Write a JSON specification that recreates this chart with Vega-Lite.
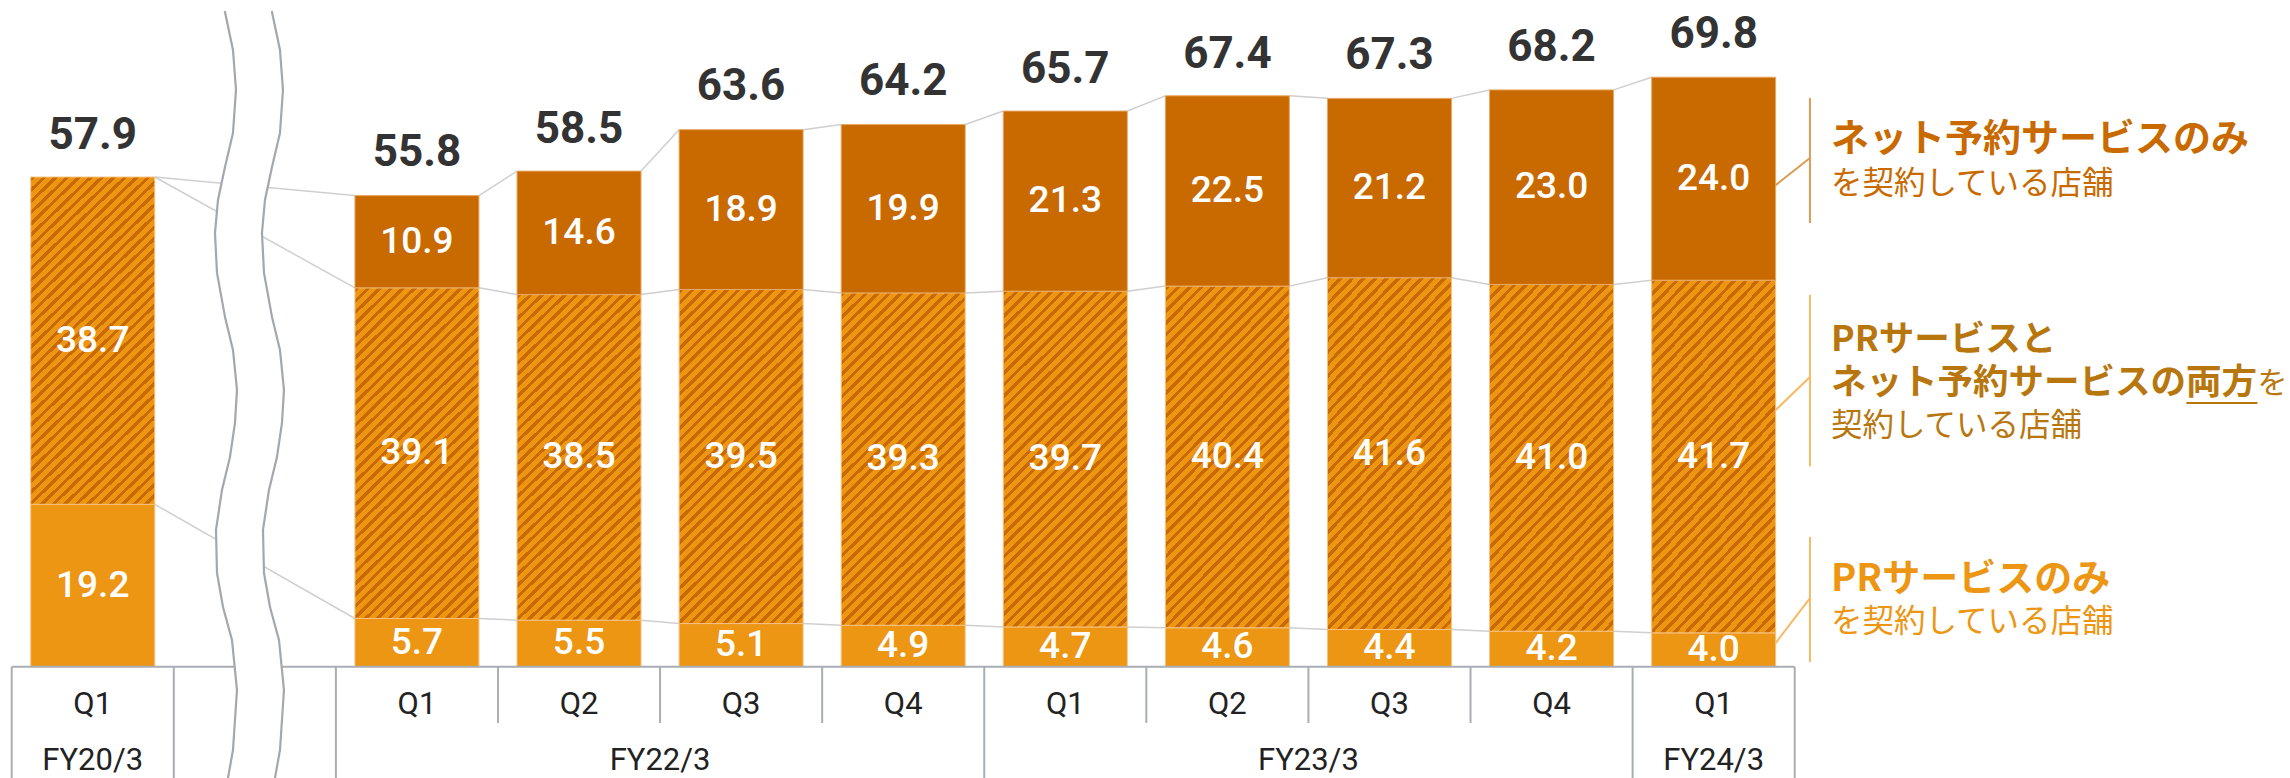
{
 "$schema": "https://vega.github.io/schema/vega-lite/v6.json",
 "width": 1783, "height": 778,
 "autosize": {"type": "none"},
 "padding": {"left": 11.7, "top": 0, "right": 495.3, "bottom": 0},
 "background": "white",
 "config": {"view": {"stroke": null}},
 "datasets": {
  "bars": [
   {"period": "FY20/3 Q1", "series": "pr", "ord": 1, "value": 19.2},
   {"period": "FY20/3 Q1", "series": "both", "ord": 2, "value": 38.7},
   {"period": "FY20/3 Q1", "series": "net", "ord": 3, "value": 0},
   {"period": "FY22/3 Q1", "series": "pr", "ord": 1, "value": 5.7},
   {"period": "FY22/3 Q1", "series": "both", "ord": 2, "value": 39.1},
   {"period": "FY22/3 Q1", "series": "net", "ord": 3, "value": 10.9},
   {"period": "FY22/3 Q2", "series": "pr", "ord": 1, "value": 5.5},
   {"period": "FY22/3 Q2", "series": "both", "ord": 2, "value": 38.5},
   {"period": "FY22/3 Q2", "series": "net", "ord": 3, "value": 14.6},
   {"period": "FY22/3 Q3", "series": "pr", "ord": 1, "value": 5.1},
   {"period": "FY22/3 Q3", "series": "both", "ord": 2, "value": 39.5},
   {"period": "FY22/3 Q3", "series": "net", "ord": 3, "value": 18.9},
   {"period": "FY22/3 Q4", "series": "pr", "ord": 1, "value": 4.9},
   {"period": "FY22/3 Q4", "series": "both", "ord": 2, "value": 39.3},
   {"period": "FY22/3 Q4", "series": "net", "ord": 3, "value": 19.9},
   {"period": "FY23/3 Q1", "series": "pr", "ord": 1, "value": 4.7},
   {"period": "FY23/3 Q1", "series": "both", "ord": 2, "value": 39.7},
   {"period": "FY23/3 Q1", "series": "net", "ord": 3, "value": 21.3},
   {"period": "FY23/3 Q2", "series": "pr", "ord": 1, "value": 4.6},
   {"period": "FY23/3 Q2", "series": "both", "ord": 2, "value": 40.4},
   {"period": "FY23/3 Q2", "series": "net", "ord": 3, "value": 22.5},
   {"period": "FY23/3 Q3", "series": "pr", "ord": 1, "value": 4.4},
   {"period": "FY23/3 Q3", "series": "both", "ord": 2, "value": 41.6},
   {"period": "FY23/3 Q3", "series": "net", "ord": 3, "value": 21.2},
   {"period": "FY23/3 Q4", "series": "pr", "ord": 1, "value": 4.2},
   {"period": "FY23/3 Q4", "series": "both", "ord": 2, "value": 41.0},
   {"period": "FY23/3 Q4", "series": "net", "ord": 3, "value": 23.0},
   {"period": "FY24/3 Q1", "series": "pr", "ord": 1, "value": 4.0},
   {"period": "FY24/3 Q1", "series": "both", "ord": 2, "value": 41.7},
   {"period": "FY24/3 Q1", "series": "net", "ord": 3, "value": 24.0}
  ],
  "totals": [
   {"period": "FY20/3 Q1", "q": "Q1", "total": 57.9},
   {"period": "FY22/3 Q1", "q": "Q1", "total": 55.8},
   {"period": "FY22/3 Q2", "q": "Q2", "total": 58.5},
   {"period": "FY22/3 Q3", "q": "Q3", "total": 63.6},
   {"period": "FY22/3 Q4", "q": "Q4", "total": 64.2},
   {"period": "FY23/3 Q1", "q": "Q1", "total": 65.7},
   {"period": "FY23/3 Q2", "q": "Q2", "total": 67.4},
   {"period": "FY23/3 Q3", "q": "Q3", "total": 67.3},
   {"period": "FY23/3 Q4", "q": "Q4", "total": 68.2},
   {"period": "FY24/3 Q1", "q": "Q1", "total": 69.8}
  ],
  "fy": [
   {"fy": "FY20/3", "period": "FY20/3 Q1", "span": 1},
   {"fy": "FY22/3", "period": "FY22/3 Q2", "span": 4},
   {"fy": "FY23/3", "period": "FY23/3 Q2", "span": 4},
   {"fy": "FY24/3", "period": "FY24/3 Q1", "span": 1}
  ],
  "grid": [
   {"period": "FY20/3 Q1", "len": "full"},
   {"period": "gap", "len": "full"},
   {"period": "FY22/3 Q1", "len": "full"},
   {"period": "FY22/3 Q2", "len": "short"},
   {"period": "FY22/3 Q3", "len": "short"},
   {"period": "FY22/3 Q4", "len": "short"},
   {"period": "FY23/3 Q1", "len": "full"},
   {"period": "FY23/3 Q2", "len": "short"},
   {"period": "FY23/3 Q3", "len": "short"},
   {"period": "FY23/3 Q4", "len": "short"},
   {"period": "FY24/3 Q1", "len": "full"}
  ],
  "gapcell": [{"period": "gap"}],
  "lastcell": [{"period": "FY24/3 Q1"}],
  "span": [{"period": "FY20/3 Q1", "end": "FY24/3 Q1"}]
 },
 "encoding": {
  "x": {"field": "period", "type": "nominal", "scale": {"domain": ["FY20/3 Q1", "gap", "FY22/3 Q1", "FY22/3 Q2", "FY22/3 Q3", "FY22/3 Q4", "FY23/3 Q1", "FY23/3 Q2", "FY23/3 Q3", "FY23/3 Q4", "FY24/3 Q1"], "paddingInner": 0.235, "paddingOuter": 0.1175}, "axis": null}
 },
 "layer": [
    {
     "data": {"name": "bars"},
     "transform": [
      {"stack": "value", "groupby": ["period"], "sort": [{"field": "ord", "order": "ascending"}], "as": ["v0", "v1"]},
      {"window": [{"op": "lead", "field": "v1", "as": "nv1"}, {"op": "lead", "field": "period", "as": "nperiod"}], "groupby": ["series"], "sort": [{"field": "period", "order": "ascending"}]},
      {"filter": "datum.nperiod != null"}
     ],
     "mark": {"type": "rule", "color": "#CFCFCF", "strokeWidth": 1.5},
     "encoding": {
      "x": {"field": "period", "type": "nominal", "bandPosition": 1, "scale": {"domain": ["FY20/3 Q1", "gap", "FY22/3 Q1", "FY22/3 Q2", "FY22/3 Q3", "FY22/3 Q4", "FY23/3 Q1", "FY23/3 Q2", "FY23/3 Q3", "FY23/3 Q4", "FY24/3 Q1"], "paddingInner": 0.235, "paddingOuter": 0.1175}, "axis": null},
      "x2": {"field": "nperiod", "bandPosition": 0},
      "y": {"field": "v1", "type": "quantitative", "scale": {"domain": [-13.16, 78.83], "nice": false, "zero": false}, "axis": null},
      "y2": {"field": "nv1"}
     }
    },
    {
     "data": {"name": "bars"},
     "transform": [
      {"stack": "value", "groupby": ["period"], "sort": [{"field": "ord", "order": "ascending"}], "as": ["v0", "v1"]},
      {"filter": "datum.series == 'pr'"}
     ],
     "mark": {"type": "bar", "fill": "#EC9613", "stroke": "#F6C283", "strokeWidth": 1},
     "encoding": {
      "y": {"field": "v0", "type": "quantitative", "axis": null},
      "y2": {"field": "v1"}
     }
    },
    {
     "data": {"name": "bars"},
     "transform": [
      {"stack": "value", "groupby": ["period"], "sort": [{"field": "ord", "order": "ascending"}], "as": ["v0", "v1"]},
      {"filter": "datum.series == 'both'"}
     ],
     "mark": {"type": "bar", "stroke": "#F6C283", "strokeWidth": 1,
      "fill": {"gradient": "linear", "x1": 0, "y1": 0, "x2": 0.4419, "y2": 1.2047, "stops": [
{"offset":0,"color":"#C96A00"},{"offset":0.01,"color":"#C96A00"},{"offset":0.01,"color":"#EC9613"},{"offset":0.025,"color":"#EC9613"},
{"offset":0.025,"color":"#C96A00"},{"offset":0.035,"color":"#C96A00"},{"offset":0.035,"color":"#EC9613"},{"offset":0.05,"color":"#EC9613"},
{"offset":0.05,"color":"#C96A00"},{"offset":0.06,"color":"#C96A00"},{"offset":0.06,"color":"#EC9613"},{"offset":0.075,"color":"#EC9613"},
{"offset":0.075,"color":"#C96A00"},{"offset":0.085,"color":"#C96A00"},{"offset":0.085,"color":"#EC9613"},{"offset":0.1,"color":"#EC9613"},
{"offset":0.1,"color":"#C96A00"},{"offset":0.11,"color":"#C96A00"},{"offset":0.11,"color":"#EC9613"},{"offset":0.125,"color":"#EC9613"},
{"offset":0.125,"color":"#C96A00"},{"offset":0.135,"color":"#C96A00"},{"offset":0.135,"color":"#EC9613"},{"offset":0.15,"color":"#EC9613"},
{"offset":0.15,"color":"#C96A00"},{"offset":0.16,"color":"#C96A00"},{"offset":0.16,"color":"#EC9613"},{"offset":0.175,"color":"#EC9613"},
{"offset":0.175,"color":"#C96A00"},{"offset":0.185,"color":"#C96A00"},{"offset":0.185,"color":"#EC9613"},{"offset":0.2,"color":"#EC9613"},
{"offset":0.2,"color":"#C96A00"},{"offset":0.21,"color":"#C96A00"},{"offset":0.21,"color":"#EC9613"},{"offset":0.225,"color":"#EC9613"},
{"offset":0.225,"color":"#C96A00"},{"offset":0.235,"color":"#C96A00"},{"offset":0.235,"color":"#EC9613"},{"offset":0.25,"color":"#EC9613"},
{"offset":0.25,"color":"#C96A00"},{"offset":0.26,"color":"#C96A00"},{"offset":0.26,"color":"#EC9613"},{"offset":0.275,"color":"#EC9613"},
{"offset":0.275,"color":"#C96A00"},{"offset":0.285,"color":"#C96A00"},{"offset":0.285,"color":"#EC9613"},{"offset":0.3,"color":"#EC9613"},
{"offset":0.3,"color":"#C96A00"},{"offset":0.31,"color":"#C96A00"},{"offset":0.31,"color":"#EC9613"},{"offset":0.325,"color":"#EC9613"},
{"offset":0.325,"color":"#C96A00"},{"offset":0.335,"color":"#C96A00"},{"offset":0.335,"color":"#EC9613"},{"offset":0.35,"color":"#EC9613"},
{"offset":0.35,"color":"#C96A00"},{"offset":0.36,"color":"#C96A00"},{"offset":0.36,"color":"#EC9613"},{"offset":0.375,"color":"#EC9613"},
{"offset":0.375,"color":"#C96A00"},{"offset":0.385,"color":"#C96A00"},{"offset":0.385,"color":"#EC9613"},{"offset":0.4,"color":"#EC9613"},
{"offset":0.4,"color":"#C96A00"},{"offset":0.41,"color":"#C96A00"},{"offset":0.41,"color":"#EC9613"},{"offset":0.425,"color":"#EC9613"},
{"offset":0.425,"color":"#C96A00"},{"offset":0.435,"color":"#C96A00"},{"offset":0.435,"color":"#EC9613"},{"offset":0.45,"color":"#EC9613"},
{"offset":0.45,"color":"#C96A00"},{"offset":0.46,"color":"#C96A00"},{"offset":0.46,"color":"#EC9613"},{"offset":0.475,"color":"#EC9613"},
{"offset":0.475,"color":"#C96A00"},{"offset":0.485,"color":"#C96A00"},{"offset":0.485,"color":"#EC9613"},{"offset":0.5,"color":"#EC9613"},
{"offset":0.5,"color":"#C96A00"},{"offset":0.51,"color":"#C96A00"},{"offset":0.51,"color":"#EC9613"},{"offset":0.525,"color":"#EC9613"},
{"offset":0.525,"color":"#C96A00"},{"offset":0.535,"color":"#C96A00"},{"offset":0.535,"color":"#EC9613"},{"offset":0.55,"color":"#EC9613"},
{"offset":0.55,"color":"#C96A00"},{"offset":0.56,"color":"#C96A00"},{"offset":0.56,"color":"#EC9613"},{"offset":0.575,"color":"#EC9613"},
{"offset":0.575,"color":"#C96A00"},{"offset":0.585,"color":"#C96A00"},{"offset":0.585,"color":"#EC9613"},{"offset":0.6,"color":"#EC9613"},
{"offset":0.6,"color":"#C96A00"},{"offset":0.61,"color":"#C96A00"},{"offset":0.61,"color":"#EC9613"},{"offset":0.625,"color":"#EC9613"},
{"offset":0.625,"color":"#C96A00"},{"offset":0.635,"color":"#C96A00"},{"offset":0.635,"color":"#EC9613"},{"offset":0.65,"color":"#EC9613"},
{"offset":0.65,"color":"#C96A00"},{"offset":0.66,"color":"#C96A00"},{"offset":0.66,"color":"#EC9613"},{"offset":0.675,"color":"#EC9613"},
{"offset":0.675,"color":"#C96A00"},{"offset":0.685,"color":"#C96A00"},{"offset":0.685,"color":"#EC9613"},{"offset":0.7,"color":"#EC9613"},
{"offset":0.7,"color":"#C96A00"},{"offset":0.71,"color":"#C96A00"},{"offset":0.71,"color":"#EC9613"},{"offset":0.725,"color":"#EC9613"},
{"offset":0.725,"color":"#C96A00"},{"offset":0.735,"color":"#C96A00"},{"offset":0.735,"color":"#EC9613"},{"offset":0.75,"color":"#EC9613"},
{"offset":0.75,"color":"#C96A00"},{"offset":0.76,"color":"#C96A00"},{"offset":0.76,"color":"#EC9613"},{"offset":0.775,"color":"#EC9613"},
{"offset":0.775,"color":"#C96A00"},{"offset":0.785,"color":"#C96A00"},{"offset":0.785,"color":"#EC9613"},{"offset":0.8,"color":"#EC9613"},
{"offset":0.8,"color":"#C96A00"},{"offset":0.81,"color":"#C96A00"},{"offset":0.81,"color":"#EC9613"},{"offset":0.825,"color":"#EC9613"},
{"offset":0.825,"color":"#C96A00"},{"offset":0.835,"color":"#C96A00"},{"offset":0.835,"color":"#EC9613"},{"offset":0.85,"color":"#EC9613"},
{"offset":0.85,"color":"#C96A00"},{"offset":0.86,"color":"#C96A00"},{"offset":0.86,"color":"#EC9613"},{"offset":0.875,"color":"#EC9613"},
{"offset":0.875,"color":"#C96A00"},{"offset":0.885,"color":"#C96A00"},{"offset":0.885,"color":"#EC9613"},{"offset":0.9,"color":"#EC9613"},
{"offset":0.9,"color":"#C96A00"},{"offset":0.91,"color":"#C96A00"},{"offset":0.91,"color":"#EC9613"},{"offset":0.925,"color":"#EC9613"},
{"offset":0.925,"color":"#C96A00"},{"offset":0.935,"color":"#C96A00"},{"offset":0.935,"color":"#EC9613"},{"offset":0.95,"color":"#EC9613"},
{"offset":0.95,"color":"#C96A00"},{"offset":0.96,"color":"#C96A00"},{"offset":0.96,"color":"#EC9613"},{"offset":0.975,"color":"#EC9613"},
{"offset":0.975,"color":"#C96A00"},{"offset":0.985,"color":"#C96A00"},{"offset":0.985,"color":"#EC9613"},{"offset":1,"color":"#EC9613"}
      ]}},
     "encoding": {
      "y": {"field": "v0", "type": "quantitative", "axis": null},
      "y2": {"field": "v1"}
     }
    },
    {
     "data": {"name": "bars"},
     "transform": [
      {"stack": "value", "groupby": ["period"], "sort": [{"field": "ord", "order": "ascending"}], "as": ["v0", "v1"]},
      {"filter": "datum.series == 'net' && datum.value > 0"}
     ],
     "mark": {"type": "bar", "fill": "#C96A00", "stroke": "#E9A863", "strokeWidth": 1},
     "encoding": {
      "y": {"field": "v0", "type": "quantitative", "axis": null},
      "y2": {"field": "v1"}
     }
    },
    {
     "data": {"name": "bars"},
     "transform": [{"filter": "datum.value > 0"}],
     "mark": {"type": "text", "color": "white", "font": "Roboto", "fontSize": 37, "fontWeight": 500, "baseline": "middle", "align": "center"},
     "encoding": {
      "y": {"field": "value", "type": "quantitative", "stack": "zero", "bandPosition": 0.5, "axis": null},
      "detail": {"field": "series", "type": "nominal"},
      "order": {"field": "ord", "type": "quantitative"},
      "text": {"field": "value", "type": "quantitative", "format": ".1f"}
     }
    },
    {
     "data": {"name": "totals"},
     "mark": {"type": "text", "color": "#333333", "font": "Roboto", "fontSize": 44, "fontWeight": "bold", "baseline": "alphabetic", "align": "center", "dy": -28.5},
     "encoding": {
      "y": {"field": "total", "type": "quantitative", "axis": null},
      "text": {"field": "total", "type": "quantitative", "format": ".1f"}
     }
    },
    {
     "data": {"name": "totals"},
     "mark": {"type": "text", "color": "#222222", "font": "Roboto", "fontSize": 31, "baseline": "middle", "align": "center"},
     "encoding": {
      "y": {"datum": -4.49, "type": "quantitative"},
      "text": {"field": "q", "type": "nominal"}
     }
    },
    {
     "data": {"name": "fy"},
     "transform": [{"filter": "datum.span == 1"}],
     "mark": {"type": "text", "color": "#222222", "font": "Roboto", "fontSize": 31, "baseline": "middle", "align": "center"},
     "encoding": {
      "y": {"datum": -11.15, "type": "quantitative"},
      "text": {"field": "fy", "type": "nominal"}
     }
    },
    {
     "data": {"name": "fy"},
     "transform": [{"filter": "datum.span == 4"}],
     "mark": {"type": "text", "color": "#222222", "font": "Roboto", "fontSize": 31, "baseline": "middle", "align": "center"},
     "encoding": {
      "x": {"field": "period", "type": "nominal", "bandPosition": 1.1536, "axis": null},
      "y": {"datum": -11.15, "type": "quantitative"},
      "text": {"field": "fy", "type": "nominal"}
     }
    },
    {
     "data": {"name": "grid"},
     "transform": [{"filter": "datum.len == 'full'"}],
     "mark": {"type": "rule", "color": "#A9AEB4", "strokeWidth": 2},
     "encoding": {
      "x": {"field": "period", "type": "nominal", "bandPosition": -0.1536, "axis": null},
      "y": {"datum": 0, "type": "quantitative"},
      "y2": {"datum": -13.2}
     }
    },
    {
     "data": {"name": "grid"},
     "transform": [{"filter": "datum.len == 'short'"}],
     "mark": {"type": "rule", "color": "#A9AEB4", "strokeWidth": 2},
     "encoding": {
      "x": {"field": "period", "type": "nominal", "bandPosition": -0.1536, "axis": null},
      "y": {"datum": 0, "type": "quantitative"},
      "y2": {"datum": -6.66}
     }
    },
    {
     "data": {"name": "grid"},
     "transform": [{"filter": "datum.period == 'FY24/3 Q1'"}],
     "mark": {"type": "rule", "color": "#A9AEB4", "strokeWidth": 2},
     "encoding": {
      "x": {"field": "period", "type": "nominal", "bandPosition": 1.1536, "axis": null},
      "y": {"datum": 0, "type": "quantitative"},
      "y2": {"datum": -13.2}
     }
    },
    {
     "data": {"name": "span"},
     "mark": {"type": "rule", "color": "#A9AEB4", "strokeWidth": 2},
     "encoding": {
      "x": {"field": "period", "type": "nominal", "bandPosition": -0.1536, "axis": null},
      "x2": {"field": "end", "bandPosition": 1.1536},
      "y": {"datum": 0, "type": "quantitative"}
     }
    },

    {"data": {"name": "gapcell"}, "mark": {"type": "rule", "color": "white", "strokeWidth": 46, "strokeCap": "round"}, "encoding": {"x": {"field": "period", "type": "nominal", "bandPosition": 0.4488, "axis": null}, "x2": {"field": "period", "bandPosition": 0.5133}, "y": {"datum": 77.42, "type": "quantitative"}, "y2": {"datum": 72.92}}},
    {"data": {"name": "gapcell"}, "mark": {"type": "rule", "color": "white", "strokeWidth": 46, "strokeCap": "round"}, "encoding": {"x": {"field": "period", "type": "nominal", "bandPosition": 0.5133, "axis": null}, "x2": {"field": "period", "bandPosition": 0.5375}, "y": {"datum": 72.92, "type": "quantitative"}, "y2": {"datum": 68.19}}},
    {"data": {"name": "gapcell"}, "mark": {"type": "rule", "color": "white", "strokeWidth": 46, "strokeCap": "round"}, "encoding": {"x": {"field": "period", "type": "nominal", "bandPosition": 0.5375, "axis": null}, "x2": {"field": "period", "bandPosition": 0.5133}, "y": {"datum": 68.19, "type": "quantitative"}, "y2": {"datum": 63.11}}},
    {"data": {"name": "gapcell"}, "mark": {"type": "rule", "color": "white", "strokeWidth": 46, "strokeCap": "round"}, "encoding": {"x": {"field": "period", "type": "nominal", "bandPosition": 0.5133, "axis": null}, "x2": {"field": "period", "bandPosition": 0.4488}, "y": {"datum": 63.11, "type": "quantitative"}, "y2": {"datum": 59.09}}},
    {"data": {"name": "gapcell"}, "mark": {"type": "rule", "color": "white", "strokeWidth": 46, "strokeCap": "round"}, "encoding": {"x": {"field": "period", "type": "nominal", "bandPosition": 0.4488, "axis": null}, "x2": {"field": "period", "bandPosition": 0.3923}, "y": {"datum": 59.09, "type": "quantitative"}, "y2": {"datum": 55.19}}},
    {"data": {"name": "gapcell"}, "mark": {"type": "rule", "color": "white", "strokeWidth": 46, "strokeCap": "round"}, "encoding": {"x": {"field": "period", "type": "nominal", "bandPosition": 0.3923, "axis": null}, "x2": {"field": "period", "bandPosition": 0.3681}, "y": {"datum": 55.19, "type": "quantitative"}, "y2": {"datum": 51.29}}},
    {"data": {"name": "gapcell"}, "mark": {"type": "rule", "color": "white", "strokeWidth": 46, "strokeCap": "round"}, "encoding": {"x": {"field": "period", "type": "nominal", "bandPosition": 0.3681, "axis": null}, "x2": {"field": "period", "bandPosition": 0.3843}, "y": {"datum": 51.29, "type": "quantitative"}, "y2": {"datum": 46.56}}},
    {"data": {"name": "gapcell"}, "mark": {"type": "rule", "color": "white", "strokeWidth": 46, "strokeCap": "round"}, "encoding": {"x": {"field": "period", "type": "nominal", "bandPosition": 0.3843, "axis": null}, "x2": {"field": "period", "bandPosition": 0.4488}, "y": {"datum": 46.56, "type": "quantitative"}, "y2": {"datum": 41.36}}},
    {"data": {"name": "gapcell"}, "mark": {"type": "rule", "color": "white", "strokeWidth": 46, "strokeCap": "round"}, "encoding": {"x": {"field": "period", "type": "nominal", "bandPosition": 0.4488, "axis": null}, "x2": {"field": "period", "bandPosition": 0.5133}, "y": {"datum": 41.36, "type": "quantitative"}, "y2": {"datum": 37.45}}},
    {"data": {"name": "gapcell"}, "mark": {"type": "rule", "color": "white", "strokeWidth": 46, "strokeCap": "round"}, "encoding": {"x": {"field": "period", "type": "nominal", "bandPosition": 0.5133, "axis": null}, "x2": {"field": "period", "bandPosition": 0.5455}, "y": {"datum": 37.45, "type": "quantitative"}, "y2": {"datum": 32.72}}},
    {"data": {"name": "gapcell"}, "mark": {"type": "rule", "color": "white", "strokeWidth": 46, "strokeCap": "round"}, "encoding": {"x": {"field": "period", "type": "nominal", "bandPosition": 0.5455, "axis": null}, "x2": {"field": "period", "bandPosition": 0.5294}, "y": {"datum": 32.72, "type": "quantitative"}, "y2": {"datum": 28.82}}},
    {"data": {"name": "gapcell"}, "mark": {"type": "rule", "color": "white", "strokeWidth": 46, "strokeCap": "round"}, "encoding": {"x": {"field": "period", "type": "nominal", "bandPosition": 0.5294, "axis": null}, "x2": {"field": "period", "bandPosition": 0.4891}, "y": {"datum": 28.82, "type": "quantitative"}, "y2": {"datum": 24.80}}},
    {"data": {"name": "gapcell"}, "mark": {"type": "rule", "color": "white", "strokeWidth": 46, "strokeCap": "round"}, "encoding": {"x": {"field": "period", "type": "nominal", "bandPosition": 0.4891, "axis": null}, "x2": {"field": "period", "bandPosition": 0.4246}, "y": {"datum": 24.80, "type": "quantitative"}, "y2": {"datum": 20.90}}},
    {"data": {"name": "gapcell"}, "mark": {"type": "rule", "color": "white", "strokeWidth": 46, "strokeCap": "round"}, "encoding": {"x": {"field": "period", "type": "nominal", "bandPosition": 0.4246, "axis": null}, "x2": {"field": "period", "bandPosition": 0.3762}, "y": {"datum": 20.90, "type": "quantitative"}, "y2": {"datum": 16.17}}},
    {"data": {"name": "gapcell"}, "mark": {"type": "rule", "color": "white", "strokeWidth": 46, "strokeCap": "round"}, "encoding": {"x": {"field": "period", "type": "nominal", "bandPosition": 0.3762, "axis": null}, "x2": {"field": "period", "bandPosition": 0.3843}, "y": {"datum": 16.17, "type": "quantitative"}, "y2": {"datum": 11.08}}},
    {"data": {"name": "gapcell"}, "mark": {"type": "rule", "color": "white", "strokeWidth": 46, "strokeCap": "round"}, "encoding": {"x": {"field": "period", "type": "nominal", "bandPosition": 0.3843, "axis": null}, "x2": {"field": "period", "bandPosition": 0.4327}, "y": {"datum": 11.08, "type": "quantitative"}, "y2": {"datum": 7.06}}},
    {"data": {"name": "gapcell"}, "mark": {"type": "rule", "color": "white", "strokeWidth": 46, "strokeCap": "round"}, "encoding": {"x": {"field": "period", "type": "nominal", "bandPosition": 0.4327, "axis": null}, "x2": {"field": "period", "bandPosition": 0.5052}, "y": {"datum": 7.06, "type": "quantitative"}, "y2": {"datum": 3.16}}},
    {"data": {"name": "gapcell"}, "mark": {"type": "rule", "color": "white", "strokeWidth": 46, "strokeCap": "round"}, "encoding": {"x": {"field": "period", "type": "nominal", "bandPosition": 0.5052, "axis": null}, "x2": {"field": "period", "bandPosition": 0.5455}, "y": {"datum": 3.16, "type": "quantitative"}, "y2": {"datum": -2.76}}},
    {"data": {"name": "gapcell"}, "mark": {"type": "rule", "color": "white", "strokeWidth": 46, "strokeCap": "round"}, "encoding": {"x": {"field": "period", "type": "nominal", "bandPosition": 0.5455, "axis": null}, "x2": {"field": "period", "bandPosition": 0.5133}, "y": {"datum": -2.76, "type": "quantitative"}, "y2": {"datum": -9.85}}},
    {"data": {"name": "gapcell"}, "mark": {"type": "rule", "color": "white", "strokeWidth": 46, "strokeCap": "round"}, "encoding": {"x": {"field": "period", "type": "nominal", "bandPosition": 0.5133, "axis": null}, "x2": {"field": "period", "bandPosition": 0.4730}, "y": {"datum": -9.85, "type": "quantitative"}, "y2": {"datum": -13.16}}},

    {"data": {"name": "gapcell"}, "mark": {"type": "rule", "color": "#A3A8AE", "strokeWidth": 2.2, "strokeCap": "round"}, "encoding": {"x": {"field": "period", "type": "nominal", "bandPosition": 0.2593, "axis": null}, "x2": {"field": "period", "bandPosition": 0.3238}, "y": {"datum": 77.42, "type": "quantitative"}, "y2": {"datum": 72.92}}},
    {"data": {"name": "gapcell"}, "mark": {"type": "rule", "color": "#A3A8AE", "strokeWidth": 2.2, "strokeCap": "round"}, "encoding": {"x": {"field": "period", "type": "nominal", "bandPosition": 0.3238, "axis": null}, "x2": {"field": "period", "bandPosition": 0.3480}, "y": {"datum": 72.92, "type": "quantitative"}, "y2": {"datum": 68.19}}},
    {"data": {"name": "gapcell"}, "mark": {"type": "rule", "color": "#A3A8AE", "strokeWidth": 2.2, "strokeCap": "round"}, "encoding": {"x": {"field": "period", "type": "nominal", "bandPosition": 0.3480, "axis": null}, "x2": {"field": "period", "bandPosition": 0.3238}, "y": {"datum": 68.19, "type": "quantitative"}, "y2": {"datum": 63.11}}},
    {"data": {"name": "gapcell"}, "mark": {"type": "rule", "color": "#A3A8AE", "strokeWidth": 2.2, "strokeCap": "round"}, "encoding": {"x": {"field": "period", "type": "nominal", "bandPosition": 0.3238, "axis": null}, "x2": {"field": "period", "bandPosition": 0.2593}, "y": {"datum": 63.11, "type": "quantitative"}, "y2": {"datum": 59.09}}},
    {"data": {"name": "gapcell"}, "mark": {"type": "rule", "color": "#A3A8AE", "strokeWidth": 2.2, "strokeCap": "round"}, "encoding": {"x": {"field": "period", "type": "nominal", "bandPosition": 0.2593, "axis": null}, "x2": {"field": "period", "bandPosition": 0.2028}, "y": {"datum": 59.09, "type": "quantitative"}, "y2": {"datum": 55.19}}},
    {"data": {"name": "gapcell"}, "mark": {"type": "rule", "color": "#A3A8AE", "strokeWidth": 2.2, "strokeCap": "round"}, "encoding": {"x": {"field": "period", "type": "nominal", "bandPosition": 0.2028, "axis": null}, "x2": {"field": "period", "bandPosition": 0.1786}, "y": {"datum": 55.19, "type": "quantitative"}, "y2": {"datum": 51.29}}},
    {"data": {"name": "gapcell"}, "mark": {"type": "rule", "color": "#A3A8AE", "strokeWidth": 2.2, "strokeCap": "round"}, "encoding": {"x": {"field": "period", "type": "nominal", "bandPosition": 0.1786, "axis": null}, "x2": {"field": "period", "bandPosition": 0.1948}, "y": {"datum": 51.29, "type": "quantitative"}, "y2": {"datum": 46.56}}},
    {"data": {"name": "gapcell"}, "mark": {"type": "rule", "color": "#A3A8AE", "strokeWidth": 2.2, "strokeCap": "round"}, "encoding": {"x": {"field": "period", "type": "nominal", "bandPosition": 0.1948, "axis": null}, "x2": {"field": "period", "bandPosition": 0.2593}, "y": {"datum": 46.56, "type": "quantitative"}, "y2": {"datum": 41.36}}},
    {"data": {"name": "gapcell"}, "mark": {"type": "rule", "color": "#A3A8AE", "strokeWidth": 2.2, "strokeCap": "round"}, "encoding": {"x": {"field": "period", "type": "nominal", "bandPosition": 0.2593, "axis": null}, "x2": {"field": "period", "bandPosition": 0.3238}, "y": {"datum": 41.36, "type": "quantitative"}, "y2": {"datum": 37.45}}},
    {"data": {"name": "gapcell"}, "mark": {"type": "rule", "color": "#A3A8AE", "strokeWidth": 2.2, "strokeCap": "round"}, "encoding": {"x": {"field": "period", "type": "nominal", "bandPosition": 0.3238, "axis": null}, "x2": {"field": "period", "bandPosition": 0.3560}, "y": {"datum": 37.45, "type": "quantitative"}, "y2": {"datum": 32.72}}},
    {"data": {"name": "gapcell"}, "mark": {"type": "rule", "color": "#A3A8AE", "strokeWidth": 2.2, "strokeCap": "round"}, "encoding": {"x": {"field": "period", "type": "nominal", "bandPosition": 0.3560, "axis": null}, "x2": {"field": "period", "bandPosition": 0.3399}, "y": {"datum": 32.72, "type": "quantitative"}, "y2": {"datum": 28.82}}},
    {"data": {"name": "gapcell"}, "mark": {"type": "rule", "color": "#A3A8AE", "strokeWidth": 2.2, "strokeCap": "round"}, "encoding": {"x": {"field": "period", "type": "nominal", "bandPosition": 0.3399, "axis": null}, "x2": {"field": "period", "bandPosition": 0.2996}, "y": {"datum": 28.82, "type": "quantitative"}, "y2": {"datum": 24.80}}},
    {"data": {"name": "gapcell"}, "mark": {"type": "rule", "color": "#A3A8AE", "strokeWidth": 2.2, "strokeCap": "round"}, "encoding": {"x": {"field": "period", "type": "nominal", "bandPosition": 0.2996, "axis": null}, "x2": {"field": "period", "bandPosition": 0.2351}, "y": {"datum": 24.80, "type": "quantitative"}, "y2": {"datum": 20.90}}},
    {"data": {"name": "gapcell"}, "mark": {"type": "rule", "color": "#A3A8AE", "strokeWidth": 2.2, "strokeCap": "round"}, "encoding": {"x": {"field": "period", "type": "nominal", "bandPosition": 0.2351, "axis": null}, "x2": {"field": "period", "bandPosition": 0.1867}, "y": {"datum": 20.90, "type": "quantitative"}, "y2": {"datum": 16.17}}},
    {"data": {"name": "gapcell"}, "mark": {"type": "rule", "color": "#A3A8AE", "strokeWidth": 2.2, "strokeCap": "round"}, "encoding": {"x": {"field": "period", "type": "nominal", "bandPosition": 0.1867, "axis": null}, "x2": {"field": "period", "bandPosition": 0.1948}, "y": {"datum": 16.17, "type": "quantitative"}, "y2": {"datum": 11.08}}},
    {"data": {"name": "gapcell"}, "mark": {"type": "rule", "color": "#A3A8AE", "strokeWidth": 2.2, "strokeCap": "round"}, "encoding": {"x": {"field": "period", "type": "nominal", "bandPosition": 0.1948, "axis": null}, "x2": {"field": "period", "bandPosition": 0.2432}, "y": {"datum": 11.08, "type": "quantitative"}, "y2": {"datum": 7.06}}},
    {"data": {"name": "gapcell"}, "mark": {"type": "rule", "color": "#A3A8AE", "strokeWidth": 2.2, "strokeCap": "round"}, "encoding": {"x": {"field": "period", "type": "nominal", "bandPosition": 0.2432, "axis": null}, "x2": {"field": "period", "bandPosition": 0.3157}, "y": {"datum": 7.06, "type": "quantitative"}, "y2": {"datum": 3.16}}},
    {"data": {"name": "gapcell"}, "mark": {"type": "rule", "color": "#A3A8AE", "strokeWidth": 2.2, "strokeCap": "round"}, "encoding": {"x": {"field": "period", "type": "nominal", "bandPosition": 0.3157, "axis": null}, "x2": {"field": "period", "bandPosition": 0.3560}, "y": {"datum": 3.16, "type": "quantitative"}, "y2": {"datum": -2.76}}},
    {"data": {"name": "gapcell"}, "mark": {"type": "rule", "color": "#A3A8AE", "strokeWidth": 2.2, "strokeCap": "round"}, "encoding": {"x": {"field": "period", "type": "nominal", "bandPosition": 0.3560, "axis": null}, "x2": {"field": "period", "bandPosition": 0.3238}, "y": {"datum": -2.76, "type": "quantitative"}, "y2": {"datum": -9.85}}},
    {"data": {"name": "gapcell"}, "mark": {"type": "rule", "color": "#A3A8AE", "strokeWidth": 2.2, "strokeCap": "round"}, "encoding": {"x": {"field": "period", "type": "nominal", "bandPosition": 0.3238, "axis": null}, "x2": {"field": "period", "bandPosition": 0.2835}, "y": {"datum": -9.85, "type": "quantitative"}, "y2": {"datum": -13.16}}},

    {"data": {"name": "gapcell"}, "mark": {"type": "rule", "color": "#A3A8AE", "strokeWidth": 2.2, "strokeCap": "round"}, "encoding": {"x": {"field": "period", "type": "nominal", "bandPosition": 0.6383, "axis": null}, "x2": {"field": "period", "bandPosition": 0.7028}, "y": {"datum": 77.42, "type": "quantitative"}, "y2": {"datum": 72.92}}},
    {"data": {"name": "gapcell"}, "mark": {"type": "rule", "color": "#A3A8AE", "strokeWidth": 2.2, "strokeCap": "round"}, "encoding": {"x": {"field": "period", "type": "nominal", "bandPosition": 0.7028, "axis": null}, "x2": {"field": "period", "bandPosition": 0.7270}, "y": {"datum": 72.92, "type": "quantitative"}, "y2": {"datum": 68.19}}},
    {"data": {"name": "gapcell"}, "mark": {"type": "rule", "color": "#A3A8AE", "strokeWidth": 2.2, "strokeCap": "round"}, "encoding": {"x": {"field": "period", "type": "nominal", "bandPosition": 0.7270, "axis": null}, "x2": {"field": "period", "bandPosition": 0.7028}, "y": {"datum": 68.19, "type": "quantitative"}, "y2": {"datum": 63.11}}},
    {"data": {"name": "gapcell"}, "mark": {"type": "rule", "color": "#A3A8AE", "strokeWidth": 2.2, "strokeCap": "round"}, "encoding": {"x": {"field": "period", "type": "nominal", "bandPosition": 0.7028, "axis": null}, "x2": {"field": "period", "bandPosition": 0.6383}, "y": {"datum": 63.11, "type": "quantitative"}, "y2": {"datum": 59.09}}},
    {"data": {"name": "gapcell"}, "mark": {"type": "rule", "color": "#A3A8AE", "strokeWidth": 2.2, "strokeCap": "round"}, "encoding": {"x": {"field": "period", "type": "nominal", "bandPosition": 0.6383, "axis": null}, "x2": {"field": "period", "bandPosition": 0.5818}, "y": {"datum": 59.09, "type": "quantitative"}, "y2": {"datum": 55.19}}},
    {"data": {"name": "gapcell"}, "mark": {"type": "rule", "color": "#A3A8AE", "strokeWidth": 2.2, "strokeCap": "round"}, "encoding": {"x": {"field": "period", "type": "nominal", "bandPosition": 0.5818, "axis": null}, "x2": {"field": "period", "bandPosition": 0.5576}, "y": {"datum": 55.19, "type": "quantitative"}, "y2": {"datum": 51.29}}},
    {"data": {"name": "gapcell"}, "mark": {"type": "rule", "color": "#A3A8AE", "strokeWidth": 2.2, "strokeCap": "round"}, "encoding": {"x": {"field": "period", "type": "nominal", "bandPosition": 0.5576, "axis": null}, "x2": {"field": "period", "bandPosition": 0.5738}, "y": {"datum": 51.29, "type": "quantitative"}, "y2": {"datum": 46.56}}},
    {"data": {"name": "gapcell"}, "mark": {"type": "rule", "color": "#A3A8AE", "strokeWidth": 2.2, "strokeCap": "round"}, "encoding": {"x": {"field": "period", "type": "nominal", "bandPosition": 0.5738, "axis": null}, "x2": {"field": "period", "bandPosition": 0.6383}, "y": {"datum": 46.56, "type": "quantitative"}, "y2": {"datum": 41.36}}},
    {"data": {"name": "gapcell"}, "mark": {"type": "rule", "color": "#A3A8AE", "strokeWidth": 2.2, "strokeCap": "round"}, "encoding": {"x": {"field": "period", "type": "nominal", "bandPosition": 0.6383, "axis": null}, "x2": {"field": "period", "bandPosition": 0.7028}, "y": {"datum": 41.36, "type": "quantitative"}, "y2": {"datum": 37.45}}},
    {"data": {"name": "gapcell"}, "mark": {"type": "rule", "color": "#A3A8AE", "strokeWidth": 2.2, "strokeCap": "round"}, "encoding": {"x": {"field": "period", "type": "nominal", "bandPosition": 0.7028, "axis": null}, "x2": {"field": "period", "bandPosition": 0.7350}, "y": {"datum": 37.45, "type": "quantitative"}, "y2": {"datum": 32.72}}},
    {"data": {"name": "gapcell"}, "mark": {"type": "rule", "color": "#A3A8AE", "strokeWidth": 2.2, "strokeCap": "round"}, "encoding": {"x": {"field": "period", "type": "nominal", "bandPosition": 0.7350, "axis": null}, "x2": {"field": "period", "bandPosition": 0.7189}, "y": {"datum": 32.72, "type": "quantitative"}, "y2": {"datum": 28.82}}},
    {"data": {"name": "gapcell"}, "mark": {"type": "rule", "color": "#A3A8AE", "strokeWidth": 2.2, "strokeCap": "round"}, "encoding": {"x": {"field": "period", "type": "nominal", "bandPosition": 0.7189, "axis": null}, "x2": {"field": "period", "bandPosition": 0.6786}, "y": {"datum": 28.82, "type": "quantitative"}, "y2": {"datum": 24.80}}},
    {"data": {"name": "gapcell"}, "mark": {"type": "rule", "color": "#A3A8AE", "strokeWidth": 2.2, "strokeCap": "round"}, "encoding": {"x": {"field": "period", "type": "nominal", "bandPosition": 0.6786, "axis": null}, "x2": {"field": "period", "bandPosition": 0.6141}, "y": {"datum": 24.80, "type": "quantitative"}, "y2": {"datum": 20.90}}},
    {"data": {"name": "gapcell"}, "mark": {"type": "rule", "color": "#A3A8AE", "strokeWidth": 2.2, "strokeCap": "round"}, "encoding": {"x": {"field": "period", "type": "nominal", "bandPosition": 0.6141, "axis": null}, "x2": {"field": "period", "bandPosition": 0.5657}, "y": {"datum": 20.90, "type": "quantitative"}, "y2": {"datum": 16.17}}},
    {"data": {"name": "gapcell"}, "mark": {"type": "rule", "color": "#A3A8AE", "strokeWidth": 2.2, "strokeCap": "round"}, "encoding": {"x": {"field": "period", "type": "nominal", "bandPosition": 0.5657, "axis": null}, "x2": {"field": "period", "bandPosition": 0.5738}, "y": {"datum": 16.17, "type": "quantitative"}, "y2": {"datum": 11.08}}},
    {"data": {"name": "gapcell"}, "mark": {"type": "rule", "color": "#A3A8AE", "strokeWidth": 2.2, "strokeCap": "round"}, "encoding": {"x": {"field": "period", "type": "nominal", "bandPosition": 0.5738, "axis": null}, "x2": {"field": "period", "bandPosition": 0.6222}, "y": {"datum": 11.08, "type": "quantitative"}, "y2": {"datum": 7.06}}},
    {"data": {"name": "gapcell"}, "mark": {"type": "rule", "color": "#A3A8AE", "strokeWidth": 2.2, "strokeCap": "round"}, "encoding": {"x": {"field": "period", "type": "nominal", "bandPosition": 0.6222, "axis": null}, "x2": {"field": "period", "bandPosition": 0.6947}, "y": {"datum": 7.06, "type": "quantitative"}, "y2": {"datum": 3.16}}},
    {"data": {"name": "gapcell"}, "mark": {"type": "rule", "color": "#A3A8AE", "strokeWidth": 2.2, "strokeCap": "round"}, "encoding": {"x": {"field": "period", "type": "nominal", "bandPosition": 0.6947, "axis": null}, "x2": {"field": "period", "bandPosition": 0.7350}, "y": {"datum": 3.16, "type": "quantitative"}, "y2": {"datum": -2.76}}},
    {"data": {"name": "gapcell"}, "mark": {"type": "rule", "color": "#A3A8AE", "strokeWidth": 2.2, "strokeCap": "round"}, "encoding": {"x": {"field": "period", "type": "nominal", "bandPosition": 0.7350, "axis": null}, "x2": {"field": "period", "bandPosition": 0.7028}, "y": {"datum": -2.76, "type": "quantitative"}, "y2": {"datum": -9.85}}},
    {"data": {"name": "gapcell"}, "mark": {"type": "rule", "color": "#A3A8AE", "strokeWidth": 2.2, "strokeCap": "round"}, "encoding": {"x": {"field": "period", "type": "nominal", "bandPosition": 0.7028, "axis": null}, "x2": {"field": "period", "bandPosition": 0.6625}, "y": {"datum": -9.85, "type": "quantitative"}, "y2": {"datum": -13.16}}},

    {"data": {"name": "lastcell"}, "mark": {"type": "rule", "color": "#DB9B55", "strokeWidth": 2}, "encoding": {"x": {"field": "period", "type": "nominal", "bandPosition": 1.2766, "axis": null}, "y": {"datum": 67.25, "type": "quantitative"}, "y2": {"datum": 52.46}}},
    {"data": {"name": "lastcell"}, "mark": {"type": "rule", "color": "#F6BA62", "strokeWidth": 2}, "encoding": {"x": {"field": "period", "type": "nominal", "bandPosition": 1.2766, "axis": null}, "y": {"datum": 43.96, "type": "quantitative"}, "y2": {"datum": 23.69}}},
    {"data": {"name": "lastcell"}, "mark": {"type": "rule", "color": "#F6BA62", "strokeWidth": 2}, "encoding": {"x": {"field": "period", "type": "nominal", "bandPosition": 1.2766, "axis": null}, "y": {"datum": 15.34, "type": "quantitative"}, "y2": {"datum": 0.55}}},
    {"data": {"name": "lastcell"}, "mark": {"type": "rule", "color": "#DB9B55", "strokeWidth": 2}, "encoding": {"x": {"field": "period", "type": "nominal", "bandPosition": 1.0, "axis": null}, "x2": {"field": "period", "bandPosition": 1.2766}, "y": {"datum": 56.94, "type": "quantitative"}, "y2": {"datum": 60.15}}},
    {"data": {"name": "lastcell"}, "mark": {"type": "rule", "color": "#F6BA62", "strokeWidth": 2}, "encoding": {"x": {"field": "period", "type": "nominal", "bandPosition": 1.0, "axis": null}, "x2": {"field": "period", "bandPosition": 1.2766}, "y": {"datum": 30.35, "type": "quantitative"}, "y2": {"datum": 34.26}}},
    {"data": {"name": "lastcell"}, "mark": {"type": "rule", "color": "#F6BA62", "strokeWidth": 2}, "encoding": {"x": {"field": "period", "type": "nominal", "bandPosition": 1.0, "axis": null}, "x2": {"field": "period", "bandPosition": 1.2766}, "y": {"datum": 2.8, "type": "quantitative"}, "y2": {"datum": 8.12}}},
    {"data": {"name": "lastcell"}, "mark": {"type": "rule", "color": "#B8770E", "strokeWidth": 2}, "encoding": {"x": {"field": "period", "type": "nominal", "bandPosition": 4.3121, "axis": null}, "x2": {"field": "period", "bandPosition": 4.8855}, "y": {"datum": 31.18, "type": "quantitative"}}},

    {"data": {"values": [{"period": "FY24/3 Q1", "label": "ネット予約サービスのみ"}]}, "mark": {"type": "text", "font": "Noto Sans CJK JP", "fontWeight": "bold", "fontSize": 38, "color": "#C96A00", "align": "left", "baseline": "middle"}, "encoding": {"x": {"field": "period", "type": "nominal", "bandPosition": 1.446, "axis": null}, "y": {"datum": 62.3, "type": "quantitative"}, "text": {"field": "label", "type": "nominal"}}},
    {"data": {"values": [{"period": "FY24/3 Q1", "label": "を契約している店舗"}]}, "mark": {"type": "text", "font": "Noto Sans CJK JP", "fontSize": 31.5, "color": "#C96A00", "align": "left", "baseline": "middle"}, "encoding": {"x": {"field": "period", "type": "nominal", "bandPosition": 1.446, "axis": null}, "y": {"datum": 57.0, "type": "quantitative"}, "text": {"field": "label", "type": "nominal"}}},
    {"data": {"values": [{"period": "FY24/3 Q1", "label": "PRサービスと"}]}, "mark": {"type": "text", "font": "Noto Sans CJK JP", "fontWeight": "bold", "fontSize": 35.5, "color": "#B8770E", "align": "left", "baseline": "middle"}, "encoding": {"x": {"field": "period", "type": "nominal", "bandPosition": 1.446, "axis": null}, "y": {"datum": 38.57, "type": "quantitative"}, "text": {"field": "label", "type": "nominal"}}},
    {"data": {"values": [{"period": "FY24/3 Q1", "label": "ネット予約サービスの両方"}]}, "mark": {"type": "text", "font": "Noto Sans CJK JP", "fontWeight": "bold", "fontSize": 35.5, "color": "#B8770E", "align": "left", "baseline": "middle"}, "encoding": {"x": {"field": "period", "type": "nominal", "bandPosition": 1.446, "axis": null}, "y": {"datum": 33.55, "type": "quantitative"}, "text": {"field": "label", "type": "nominal"}}},
    {"data": {"values": [{"period": "FY24/3 Q1", "label": "を"}]}, "mark": {"type": "text", "font": "Noto Sans CJK JP", "fontSize": 30, "color": "#B8770E", "align": "left", "baseline": "middle"}, "encoding": {"x": {"field": "period", "type": "nominal", "bandPosition": 4.8855, "axis": null}, "y": {"datum": 33.4, "type": "quantitative"}, "text": {"field": "label", "type": "nominal"}}},
    {"data": {"values": [{"period": "FY24/3 Q1", "label": "契約している店舗"}]}, "mark": {"type": "text", "font": "Noto Sans CJK JP", "fontSize": 31.5, "color": "#B8770E", "align": "left", "baseline": "middle"}, "encoding": {"x": {"field": "period", "type": "nominal", "bandPosition": 1.446, "axis": null}, "y": {"datum": 28.3, "type": "quantitative"}, "text": {"field": "label", "type": "nominal"}}},
    {"data": {"values": [{"period": "FY24/3 Q1", "label": "PRサービスのみ"}]}, "mark": {"type": "text", "font": "Noto Sans CJK JP", "fontWeight": "bold", "fontSize": 38, "color": "#EC9613", "align": "left", "baseline": "middle"}, "encoding": {"x": {"field": "period", "type": "nominal", "bandPosition": 1.446, "axis": null}, "y": {"datum": 10.2, "type": "quantitative"}, "text": {"field": "label", "type": "nominal"}}},
    {"data": {"values": [{"period": "FY24/3 Q1", "label": "を契約している店舗"}]}, "mark": {"type": "text", "font": "Noto Sans CJK JP", "fontSize": 31.5, "color": "#EC9613", "align": "left", "baseline": "middle"}, "encoding": {"x": {"field": "period", "type": "nominal", "bandPosition": 1.446, "axis": null}, "y": {"datum": 5.2, "type": "quantitative"}, "text": {"field": "label", "type": "nominal"}}}
 ]
}
